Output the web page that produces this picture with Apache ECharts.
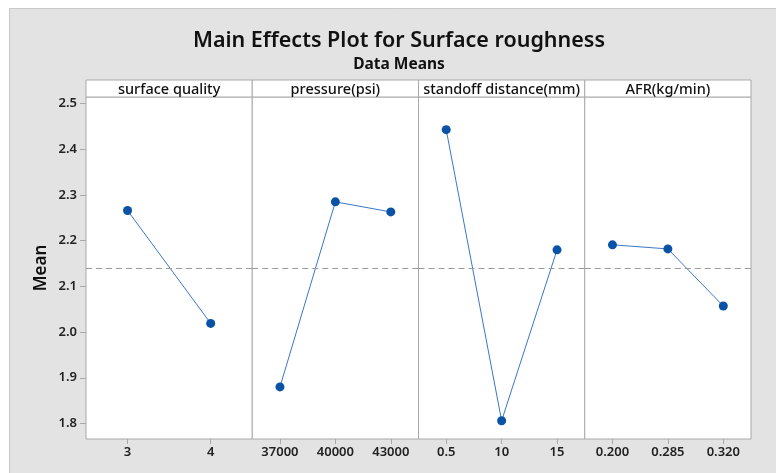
<!DOCTYPE html>
<html>
<head>
<meta charset="utf-8">
<script src="https://cdn.jsdelivr.net/npm/echarts@6/dist/echarts.min.js"></script>
<style>
  html, body { margin: 0; padding: 0; background: #fff; }
  #main { width: 776px; height: 473px; }
</style>
</head>
<body>
<div id="main"></div>
<script>
// factor names (panel headers)
const factors = ['surface quality', 'pressure(psi)', 'standoff distance(mm)', 'AFR(kg/min)']

// levels of each factor
const surfaceLevels = ['3', '4']
const pressureLevels = ['37000', '40000', '43000']
const standoffLevels = ['0.5', '10', '15']
const afrLevels = ['0.200', '0.285', '0.320']

// mean surface roughness at each level
const surfaceMeans = [2.266, 2.019]
const pressureMeans = [1.880, 2.285, 2.263]
const standoffMeans = [2.443, 1.806, 2.180]
const afrMeans = [2.191, 2.182, 2.057]

// overall mean (dashed line)
const grandMean = 2.142

// y axis tick labels
const yTicks = [1.8, 1.9, 2.0, 2.1, 2.2, 2.3, 2.4, 2.5]

const levels = [surfaceLevels, pressureLevels, standoffLevels, afrLevels]
const means = [surfaceMeans, pressureMeans, standoffMeans, afrMeans]

const font = '"Noto Sans", "Open Sans", sans-serif'
const plotLeft = 86
const plotRight = 751
const plotTop = 97
const plotBottom = 439
const headerTop = 80
const panelW = (plotRight - plotLeft) / factors.length
const borderColor = '#a9a9a9'
const titleX = 399

const grids = []
const xAxes = []
const yAxes = []
const series = []
const graphics = [
  // gray frame
  {
    type: 'rect',
    shape: { x: 9.5, y: 8.5, width: 800, height: 500 },
    style: { fill: '#e3e3e3', stroke: '#c9c9c9', lineWidth: 1 },
    z: -10
  },
  {
    type: 'text',
    x: titleX,
    y: 41,
    style: {
      text: 'Main Effects Plot for Surface roughness',
      fill: '#111',
      font: '600 21.5px ' + font,
      align: 'center',
      verticalAlign: 'middle'
    }
  },
  {
    type: 'text',
    x: titleX,
    y: 65,
    style: {
      text: 'Data Means',
      fill: '#111',
      font: 'bold 15.5px ' + font,
      align: 'center',
      verticalAlign: 'middle'
    }
  }
]

for (let i = 0; i < factors.length; i++) {
  const left = plotLeft + i * panelW
  grids.push({
    left: left,
    top: plotTop,
    width: panelW,
    height: plotBottom - plotTop,
    show: true,
    backgroundColor: '#fff',
    borderColor: borderColor,
    borderWidth: 1
  })
  xAxes.push({
    type: 'category',
    gridIndex: i,
    data: levels[i],
    boundaryGap: true,
    axisLine: { show: false },
    axisTick: { show: true, alignWithLabel: true, length: 5, lineStyle: { color: borderColor } },
    axisLabel: { color: '#222', fontSize: 13, fontFamily: font, fontWeight: 600, margin: 7 },
    splitLine: { show: false }
  })
  yAxes.push({
    type: 'value',
    gridIndex: i,
    min: 1.766,
    max: 2.5145,
    name: i === 0 ? 'Mean' : '',
    nameLocation: 'middle',
    nameGap: 36,
    nameTextStyle: { color: '#111', fontSize: 17, fontFamily: font, fontWeight: 600 },
    axisLine: { show: false },
    axisTick: {
      show: i === 0,
      length: 6,
      customValues: yTicks,
      lineStyle: { color: borderColor }
    },
    axisLabel: {
      show: i === 0,
      customValues: yTicks,
      color: '#222',
      fontSize: 13,
      fontFamily: font,
      fontWeight: 600,
      margin: 9,
      formatter: (v) => v.toFixed(1)
    },
    splitLine: { show: false }
  })
  series.push({
    type: 'line',
    xAxisIndex: i,
    yAxisIndex: i,
    data: means[i],
    symbol: 'circle',
    symbolSize: 9,
    itemStyle: { color: '#0a52a5' },
    lineStyle: { color: '#3a78c4', width: 1 },
    markLine: {
      silent: true,
      symbol: 'none',
      label: { show: false },
      lineStyle: { color: '#9a9a9a', type: [6, 4], width: 1 },
      data: [{ yAxis: grandMean }]
    },
    animation: false
  })
  // header strip
  graphics.push({
    type: 'rect',
    shape: { x: left, y: headerTop, width: panelW, height: plotTop - headerTop },
    style: { fill: '#fff', stroke: borderColor, lineWidth: 1 }
  })
  graphics.push({
    type: 'text',
    x: left + panelW / 2,
    y: headerTop + (plotTop - headerTop) / 2 + 1,
    style: {
      text: factors[i],
      fill: '#111',
      font: '500 14.5px ' + font,
      align: 'center',
      verticalAlign: 'middle'
    },
    z: 10
  })
}

const chart = echarts.init(document.getElementById('main'), null, { renderer: 'canvas' })
chart.setOption({
  animation: false,
  backgroundColor: '#fff',
  graphic: graphics,
  grid: grids,
  xAxis: xAxes,
  yAxis: yAxes,
  series
})
</script>
</body>
</html>
